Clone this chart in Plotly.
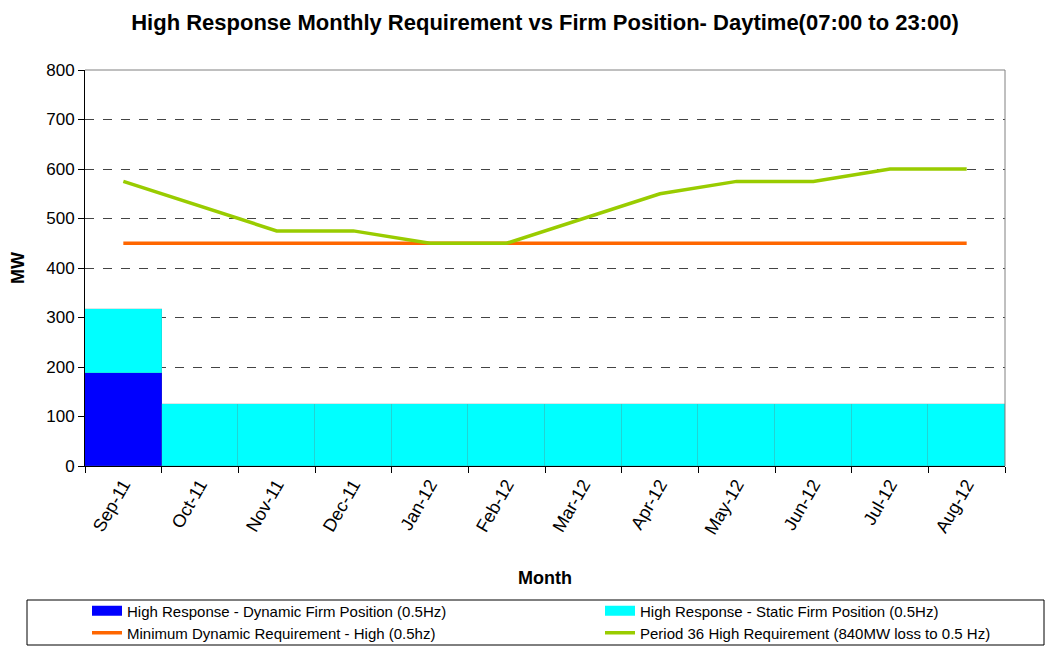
import plotly.graph_objects as go

months = ["Sep-11", "Oct-11", "Nov-11", "Dec-11", "Jan-12", "Feb-12",
          "Mar-12", "Apr-12", "May-12", "Jun-12", "Jul-12", "Aug-12"]
dynamic_firm = [188, 0, 0, 0, 0, 0, 0, 0, 0, 0, 0, 0]
static_firm = [130, 125, 125, 125, 125, 125, 125, 125, 125, 125, 125, 125]
min_dynamic_req = [450] * 12
period36_req = [575, 525, 475, 475, 450, 450, 500, 550, 575, 575, 600, 600]

names = ["High Response - Dynamic Firm Position (0.5Hz)",
         "High Response - Static Firm Position (0.5Hz)",
         "Minimum Dynamic Requirement - High (0.5hz)",
         "Period 36 High Requirement (840MW loss to 0.5 Hz)"]
colors = ["#0000FF", "#00FFFF", "#FF6600", "#99CC00"]

FONT = "Liberation Sans, Arial, sans-serif"
PW, PH, L, T = 920, 396, 85, 70

def px_x(x):
    return (x - L) / PW

def px_y(y):
    return (T + PH - y) / PH

fig = go.Figure()
fig.add_trace(go.Bar(x=months, y=dynamic_firm, name=names[0], showlegend=False,
                     marker=dict(color=colors[0], line=dict(width=0.6, color="rgba(90,90,140,0.35)"))))
fig.add_trace(go.Bar(x=months, y=static_firm, name=names[1], showlegend=False,
                     marker=dict(color=colors[1], line=dict(width=0.6, color="rgba(90,140,140,0.35)"))))
fig.add_trace(go.Scatter(x=months, y=min_dynamic_req, mode="lines", name=names[2],
                         legend="legend3", line=dict(color=colors[2], width=3.5)))
fig.add_trace(go.Scatter(x=months, y=period36_req, mode="lines", name=names[3],
                         legend="legend4", line=dict(color=colors[3], width=3.5)))
# legend keys for the bar series (rectangular swatches as in the reference)
fig.add_trace(go.Scatter(x=[None], y=[None], mode="lines", name=names[0], legend="legend",
                         line=dict(color=colors[0], width=10), hoverinfo="skip"))
fig.add_trace(go.Scatter(x=[None], y=[None], mode="lines", name=names[1], legend="legend2",
                         line=dict(color=colors[1], width=10), hoverinfo="skip"))

leg_common = dict(orientation="h", xanchor="left", yanchor="middle",
                  font=dict(size=15, family=FONT), bgcolor="rgba(0,0,0,0)",
                  itemwidth=30, borderwidth=0)

fig.update_layout(
    width=1045, height=646,
    margin=dict(l=L, r=1045 - L - PW, t=T, b=646 - T - PH, autoexpand=False),
    paper_bgcolor="white", plot_bgcolor="white",
    barmode="stack", bargap=0,
    font=dict(family=FONT, size=17, color="black"),
    title=dict(text="<b>High Response Monthly Requirement vs Firm Position- Daytime(07:00 to 23:00)</b>",
               x=0.5, xref="paper", xanchor="center", y=1 - 22 / 646, yanchor="middle",
               font=dict(size=22, family=FONT)),
    showlegend=True,
    legend=dict(x=px_x(87), y=px_y(611), **leg_common),
    legend2=dict(x=px_x(600), y=px_y(611), **leg_common),
    legend3=dict(x=px_x(87), y=px_y(633), **leg_common),
    legend4=dict(x=px_x(600), y=px_y(633), **leg_common),
)
fig.update_xaxes(
    tickangle=-60, tickson="boundaries", ticks="outside", ticklen=6, tickcolor="black",
    showline=True, linecolor="black", linewidth=1, showgrid=False, automargin=False,
    tickfont=dict(size=18, family=FONT), range=[-0.5, 11.5],
)
fig.update_yaxes(
    range=[0, 800], dtick=100, ticks="outside", ticklen=6, tickcolor="black",
    showline=True, linecolor="black", linewidth=1, automargin=False,
    showgrid=True, gridcolor="#444444", griddash="dash", gridwidth=1,
    tickfont=dict(size=17, family=FONT), zeroline=False,
)
# plot area border (top/right gray)
fig.add_shape(type="line", xref="paper", yref="paper", x0=0, x1=1, y0=1, y1=1,
              line=dict(color="#808080", width=1))
fig.add_shape(type="line", xref="paper", yref="paper", x0=1, x1=1, y0=0, y1=1,
              line=dict(color="#808080", width=1))
# legend box
fig.add_shape(type="rect", xref="paper", yref="paper",
              x0=px_x(27), x1=px_x(1044), y0=px_y(645), y1=px_y(600),
              line=dict(color="black", width=1))
fig.add_annotation(text="<b>Month</b>", xref="paper", yref="paper", x=0.5, y=px_y(578),
                   showarrow=False, font=dict(size=18, family=FONT), yanchor="middle")
fig.add_annotation(text="<b>MW</b>", xref="paper", yref="paper", x=px_x(18), y=0.5,
                   textangle=-90, showarrow=False, font=dict(size=18, family=FONT),
                   xanchor="center", yanchor="middle")

fig.write_html("out.html", config={"displayModeBar": False},
               post_script="document.body.style.margin='0';")
